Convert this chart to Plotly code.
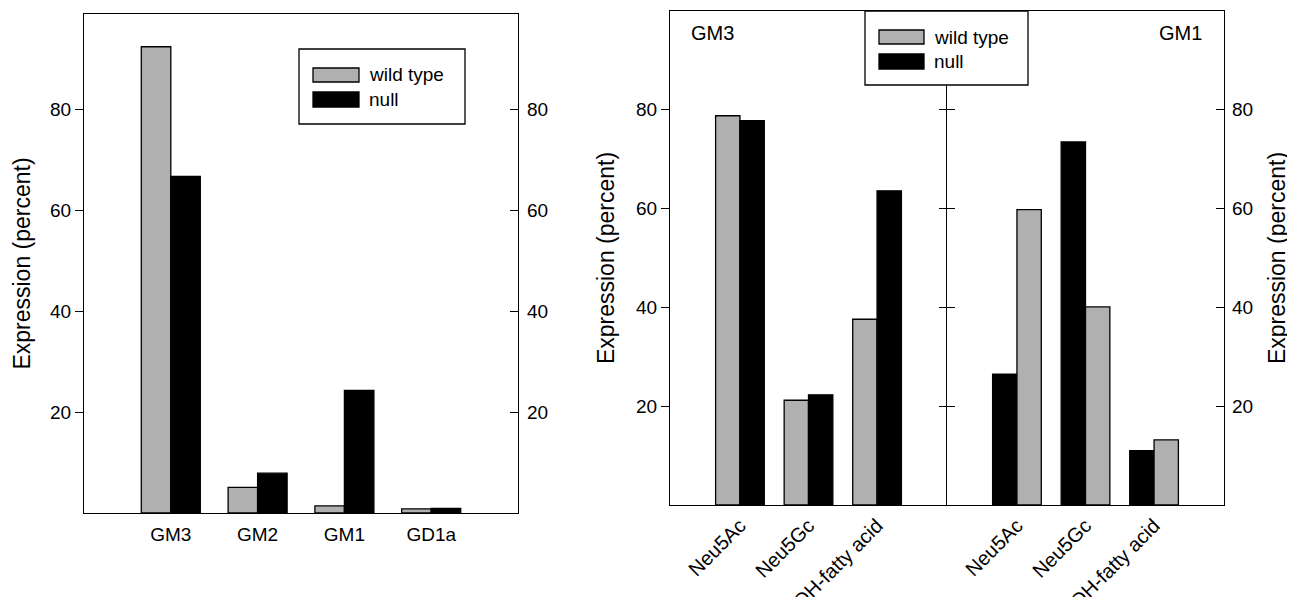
import plotly.graph_objects as go

# ---------------- data ----------------
left_categories = ["GM3", "GM2", "GM1", "GD1a"]
left_wild = [92.5, 5.1, 1.4, 0.8]
left_null = [66.8, 7.9, 24.3, 0.9]

right_categories = ["Neu5Ac", "Neu5Gc", "OH-fatty acid"]
gm3_wild = [78.8, 21.2, 37.6]
gm3_null = [77.8, 22.3, 63.6]
gm1_wild = [59.8, 40.1, 13.2]
gm1_null = [26.5, 73.5, 11.0]

y_ticks = [20, 40, 60, 80]
series_names = ["wild type", "null"]

# ---------------- style ----------------
OFF = 8                      # browser body margin
W, H = 1295 - OFF, 597 - OFF
FONT = "Liberation Sans, Arial, sans-serif"
GREY = "#b0b0b0"
BLACK = "#000000"
LW = 1.3


def px(x):
    return (x - OFF) / W


def py(y):
    return 1 - (y - OFF) / H


def dx(a, b):
    return [px(a), px(b)]


def dy(top, bottom):
    return [py(bottom), py(top)]


fig = go.Figure()

bw_l = 0.34
bw_r = 0.355
mk_grey = dict(color=GREY, line=dict(color=BLACK, width=LW))
mk_black = dict(color=BLACK, line=dict(color=BLACK, width=LW))

# Left panel
fig.add_trace(go.Bar(x=left_categories, y=left_wild, name=series_names[0], marker=mk_grey,
                     width=bw_l, offset=-bw_l, xaxis="x", yaxis="y"))
fig.add_trace(go.Bar(x=left_categories, y=left_null, name=series_names[1], marker=mk_black,
                     width=bw_l, offset=0, xaxis="x", yaxis="y2"))

# Right panel, GM3 half
fig.add_trace(go.Bar(x=right_categories, y=gm3_wild, name=series_names[0], marker=mk_grey,
                     width=bw_r, offset=-bw_r, xaxis="x2", yaxis="y3"))
fig.add_trace(go.Bar(x=right_categories, y=gm3_null, name=series_names[1], marker=mk_black,
                     width=bw_r, offset=0, xaxis="x2", yaxis="y5"))

# Right panel, GM1 half (null first, then wild type)
fig.add_trace(go.Bar(x=right_categories, y=gm1_null, name=series_names[1], marker=mk_black,
                     width=bw_r, offset=-bw_r, xaxis="x3", yaxis="y4"))
fig.add_trace(go.Bar(x=right_categories, y=gm1_wild, name=series_names[0], marker=mk_grey,
                     width=bw_r, offset=0, xaxis="x3", yaxis="y4"))

tickfont = dict(family=FONT, size=19, color=BLACK)
rtickfont = dict(family=FONT, size=20, color=BLACK)
titlefont = dict(family=FONT, size=23, color=BLACK)

common_x = dict(showline=True, linecolor=BLACK, linewidth=LW, mirror=True, ticks="",
                showgrid=False, zeroline=False, tickfont=tickfont, automargin=False,
                type="category", fixedrange=True)
common_y = dict(showline=True, linecolor=BLACK, linewidth=LW, showgrid=False, zeroline=False,
                tickvals=y_ticks, tickfont=tickfont, ticklen=8, tickwidth=LW, tickcolor=BLACK,
                automargin=False, fixedrange=True)

# ---------------- hand-drawn legends (wide swatches as in the reference) ----------------
shapes = []
annotations = []


def add_legend(box, sw_x, rows, text_x):
    x0, y0, x1, y1 = box
    shapes.append(dict(type="rect", xref="paper", yref="paper", x0=px(x0), x1=px(x1),
                       y0=py(y1), y1=py(y0), line=dict(color=BLACK, width=LW),
                       fillcolor="white", layer="above"))
    for (top, bot), color, label in rows:
        shapes.append(dict(type="rect", xref="paper", yref="paper", x0=px(sw_x[0]), x1=px(sw_x[1]),
                           y0=py(bot), y1=py(top), line=dict(color=BLACK, width=LW),
                           fillcolor=color, layer="above"))
        annotations.append(dict(text=label, x=px(text_x), y=py((top + bot) / 2), xref="paper",
                                yref="paper", xanchor="left", yanchor="middle", showarrow=False,
                                font=dict(family=FONT, size=19, color=BLACK)))


add_legend((299, 49, 465, 124), (313, 359),
           [((68, 82), GREY, series_names[0]), ((92, 107), BLACK, series_names[1])], 367)
add_legend((865, 11, 1028, 85), (879, 924),
           [((30, 44), GREY, series_names[0]), ((54, 69), BLACK, series_names[1])], 932)

annotations.append(dict(text="GM3", x=px(712), y=py(33), xref="paper", yref="paper",
                        xanchor="center", yanchor="middle", showarrow=False,
                        font=dict(family=FONT, size=20, color=BLACK)))
annotations.append(dict(text="GM1", x=px(1180), y=py(33), xref="paper", yref="paper",
                        xanchor="center", yanchor="middle", showarrow=False,
                        font=dict(family=FONT, size=20, color=BLACK)))

fig.update_layout(
    width=W, height=H,
    margin=dict(l=0, r=0, t=0, b=0),
    paper_bgcolor="white", plot_bgcolor="white",
    barmode="overlay",
    font=dict(family=FONT, color=BLACK),
    showlegend=False,
    # ----- left panel -----
    xaxis=dict(common_x, domain=dx(84, 518), anchor="y", range=[-1, 4], ticklabelstandoff=4),
    yaxis=dict(common_y, domain=dy(14, 513), anchor="x", range=[0, 99], side="left",
               ticks="outside", title=dict(text="Expression (percent)", font=titlefont, standoff=12)),
    yaxis2=dict(common_y, overlaying="y", anchor="x", range=[0, 99], side="right",
                ticks="inside", ticklabelstandoff=4),
    # ----- right panel -----
    xaxis2=dict(common_x, domain=dx(670, 947), anchor="y3", range=[-1.02, 3.02], tickangle=-45,
                tickfont=rtickfont),
    xaxis3=dict(common_x, domain=dx(947, 1224), anchor="y4", range=[-1.02, 3.02], tickangle=-45,
                tickfont=rtickfont),
    yaxis3=dict(common_y, domain=dy(11, 505), anchor="x2", range=[0, 100], side="left",
                ticks="outside", title=dict(text="Expression (percent)", font=titlefont, standoff=14)),
    yaxis5=dict(common_y, overlaying="y3", anchor="x2", range=[0, 100], side="right",
                ticks="inside", showticklabels=False, showline=False),
    yaxis4=dict(common_y, domain=dy(11, 505), anchor="x3", range=[0, 100], side="right",
                ticks="inside", mirror="ticks", ticklabelstandoff=3,
                title=dict(text="Expression (percent)", font=titlefont, standoff=16)),
    shapes=shapes,
    annotations=annotations,
)

fig.write_html("out.html")
